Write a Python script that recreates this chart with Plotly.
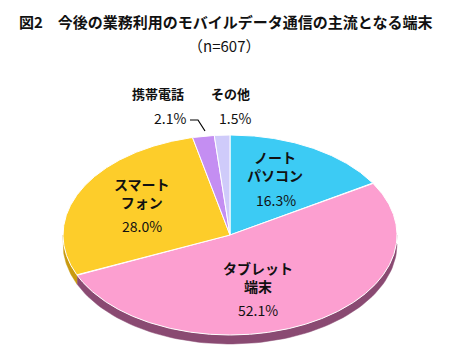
import numpy as np
import plotly.graph_objects as go

# ---- data ----
categories = ["ノートパソコン", "タブレット端末", "スマートフォン", "携帯電話", "その他"]
values = [16.3, 52.1, 28.0, 2.1, 1.5]
label_names = ["ノート<br>パソコン", "タブレット<br>端末", "スマート<br>フォン", "携帯電話", "その他"]
title_text = "図2　今後の業務利用のモバイルデータ通信の主流となる端末"
subtitle_text = "（n=607）"

# ---- style ----
top_colors = ["#3CCBF4", "#FC9FD0", "#FDCD2A", "#C48EF2", "#CFCBFA"]
side_colors = ["#1E8CB0", "#8A4A72", "#C99A10", "#8A5DB5", "#9C98C8"]
cx, cy, a, b, depth = 222, 227, 167, 100, 9

total = sum(values)
fracs = np.cumsum([0] + values) / total
fig = go.Figure()

def pt(theta, dy=0):
    return cx + a * np.sin(theta), cy - b * np.cos(theta) + dy

# side band (front half only)
for i in range(len(values)):
    t0, t1 = fracs[i] * 2 * np.pi, fracs[i + 1] * 2 * np.pi
    s0, s1 = max(t0, np.pi / 2), min(t1, 3 * np.pi / 2)
    if s1 <= s0:
        continue
    th = np.linspace(s0, s1, 80)
    xs_top, ys_top = pt(th)
    xs_bot, ys_bot = pt(th[::-1], depth)
    fig.add_trace(go.Scatter(
        x=np.concatenate([xs_top, xs_bot]), y=np.concatenate([ys_top, ys_bot]),
        fill="toself", fillcolor=side_colors[i], mode="lines",
        line=dict(color=side_colors[i], width=0.5), hoverinfo="skip", showlegend=False))

# top face
for i in range(len(values)):
    t0, t1 = fracs[i] * 2 * np.pi, fracs[i + 1] * 2 * np.pi
    th = np.linspace(t0, t1, max(8, int(200 * (t1 - t0))))
    xs, ys = pt(th)
    fig.add_trace(go.Scatter(
        x=np.concatenate([[cx], xs, [cx]]), y=np.concatenate([[cy], ys, [cy]]),
        fill="toself", fillcolor=top_colors[i], mode="lines",
        line=dict(color="white", width=1), name=categories[i],
        hovertemplate=categories[i] + ": %{text}<extra></extra>",
        text=[f"{values[i]:.1f}%"] * (len(th) + 2), showlegend=False))

jp = "Noto Sans CJK JP"
label_pos = [(267, 158), (149, 85), (134, 185), (150, 85), (222, 85)]
label_pos[1] = (250, 269)
pct_pos = [(268, 192), (250, 302), (134, 218), (162, 110), (227, 110)]
label_sizes = [14, 14, 14, 13, 13]
for i in range(len(values)):
    x, y = label_pos[i]
    fig.add_annotation(x=x, y=y, text=f"<b>{label_names[i]}</b>", showarrow=False,
                       font=dict(family=jp, size=label_sizes[i], color="#111"), xref="x", yref="y")
    x, y = pct_pos[i]
    fig.add_annotation(x=x, y=y, text=f"{values[i]:.1f}%", showarrow=False,
                       font=dict(family=jp, size=14, color="#111"), xref="x", yref="y")

# leader line for 携帯電話
fig.add_shape(type="path", path="M 182 112 L 190 112 L 197 123",
              line=dict(color="black", width=1.2), xref="x", yref="y")

fig.add_annotation(x=217, y=13, text=f"<b>{title_text}</b>", showarrow=False,
                   font=dict(family=jp, size=15, color="#111"), xref="x", yref="y")
fig.add_annotation(x=216, y=37, text=subtitle_text, showarrow=False,
                   font=dict(family=jp, size=15, color="#111"), xref="x", yref="y")

fig.update_layout(
    width=470, height=358, margin=dict(l=0, r=0, t=0, b=0),
    paper_bgcolor="white", plot_bgcolor="white",
    xaxis=dict(range=[0, 470], visible=False, fixedrange=True),
    yaxis=dict(range=[358, 0], visible=False, fixedrange=True),
)
fig.write_html("out.html")
